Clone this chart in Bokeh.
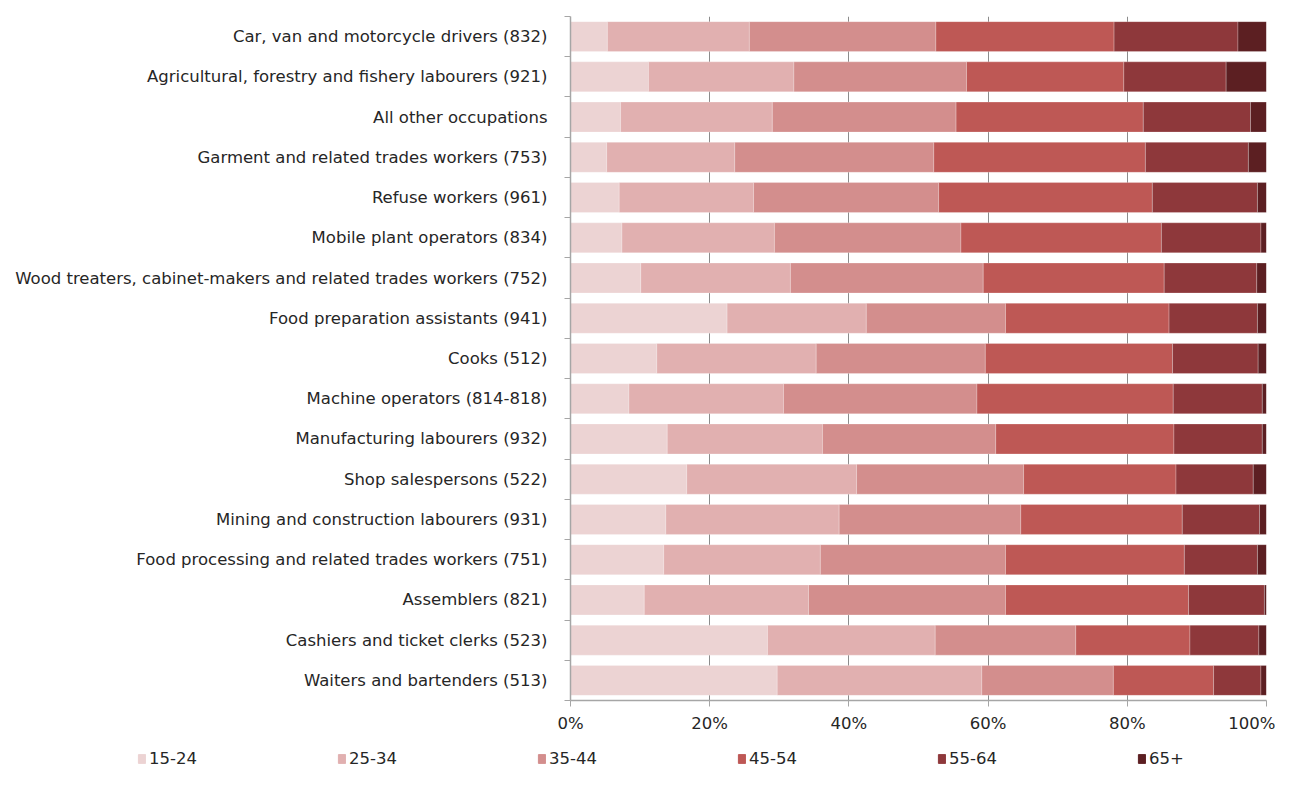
from bokeh.plotting import figure
from bokeh.models import ColumnDataSource, FixedTicker, Legend, LegendItem
from bokeh.embed import file_html
from bokeh.resources import INLINE

# categories listed from top to bottom
categories = [
    "Car, van and motorcycle drivers (832)",
    "Agricultural, forestry and fishery labourers (921)",
    "All other occupations",
    "Garment and related trades workers (753)",
    "Refuse workers (961)",
    "Mobile plant operators (834)",
    "Wood treaters, cabinet-makers and related trades workers (752)",
    "Food preparation assistants (941)",
    "Cooks (512)",
    "Machine operators (814-818)",
    "Manufacturing labourers (932)",
    "Shop salespersons (522)",
    "Mining and construction labourers (931)",
    "Food processing and related trades workers (751)",
    "Assemblers (821)",
    "Cashiers and ticket clerks (523)",
    "Waiters and bartenders (513)",
]

age_groups = ["15-24", "25-34", "35-44", "45-54", "55-64", "65+"]

# shares (%) per age group, same order as categories
s15_24 = [5.3, 11.2, 7.2, 5.2, 7.0, 7.4, 10.1, 22.5, 12.4, 8.4, 13.9, 16.7, 13.7, 13.4, 10.6, 28.3, 29.7]
s25_34 = [20.4, 20.9, 21.8, 18.4, 19.3, 21.9, 21.5, 20.0, 22.9, 22.2, 22.3, 24.4, 24.9, 22.5, 23.6, 24.1, 29.4]
s35_44 = [26.8, 24.8, 26.4, 28.6, 26.6, 26.8, 27.7, 20.0, 24.3, 27.8, 24.9, 24.0, 26.1, 26.6, 28.3, 20.2, 18.9]
s45_54 = [25.6, 22.6, 26.9, 30.4, 30.7, 28.8, 26.0, 23.5, 26.9, 28.2, 25.6, 21.9, 23.2, 25.7, 26.3, 16.4, 14.4]
s55_64 = [17.8, 14.7, 15.4, 14.8, 15.1, 14.3, 13.3, 12.7, 12.3, 12.8, 12.7, 11.1, 11.1, 10.5, 10.9, 9.9, 6.8]
s65p   = [4.1, 5.8, 2.3, 2.6, 1.3, 0.8, 1.4, 1.3, 1.2, 0.6, 0.6, 1.9, 1.0, 1.3, 0.3, 1.1, 0.8]

x_ticks = [0, 20, 40, 60, 80, 100]
x_tick_labels = ["0%", "20%", "40%", "60%", "80%", "100%"]

colors = ["#ECD3D3", "#E1B0B0", "#D38E8D", "#BE5855", "#8E383B", "#5C1F22"]

n = len(categories)
ypos = [n - i - 0.5 for i in range(n)]
series = [s15_24, s25_34, s35_44, s45_54, s55_64, s65p]

FONT = "DejaVu Sans"
FS = "16.5px"
TXT = "#262626"
AX = "#A6A6A6"

p = figure(width=1275, height=747, output_backend="svg", toolbar_location=None,
           x_range=(0, 100), y_range=(0, n),
           min_border_left=570, min_border_right=9, min_border_top=16, min_border_bottom=47)
p.outline_line_color = None
p.background_fill_color = "white"

left = [0.0] * n
for vals, col, name in zip(series, colors, age_groups):
    right = [l + v for l, v in zip(left, vals)]
    src = ColumnDataSource(dict(y=ypos, left=left, right=right))
    p.hbar(y="y", left="left", right="right", height=0.745, source=src,
           fill_color=col, line_color="white", line_width=0.4, line_alpha=0.6)
    left = right

# x axis
p.xaxis.ticker = FixedTicker(ticks=x_ticks)
p.xaxis.major_label_overrides = {t: s for t, s in zip(x_ticks, x_tick_labels)}
p.xaxis.axis_line_color = AX
p.xaxis.axis_line_width = 1.5
p.xaxis.major_tick_line_color = AX
p.xaxis.major_tick_out = 6
p.xaxis.major_tick_in = 0
p.xaxis.minor_tick_line_color = None
p.xaxis.major_label_text_font = FONT
p.xaxis.major_label_text_font_size = FS
p.xaxis.major_label_text_color = TXT
p.xaxis.major_label_standoff = 7

# y axis: labels at bar centers, small ticks at category boundaries
p.yaxis.ticker = FixedTicker(ticks=ypos, minor_ticks=list(range(0, n + 1)))
p.yaxis.major_label_overrides = {y: c for y, c in zip(ypos, categories)}
p.yaxis.major_tick_out = 0
p.yaxis.major_tick_in = 0
p.yaxis.minor_tick_out = 6
p.yaxis.minor_tick_in = 0
p.yaxis.minor_tick_line_color = AX
p.yaxis.axis_line_color = AX
p.yaxis.axis_line_width = 1.5
p.yaxis.major_label_text_font = FONT
p.yaxis.major_label_text_font_size = FS
p.yaxis.major_label_text_color = TXT
p.yaxis.major_label_standoff = 17

p.xgrid.ticker = FixedTicker(ticks=x_ticks[1:])
p.xgrid.grid_line_color = "#8C8C8C"
p.xgrid.grid_line_width = 1
p.ygrid.grid_line_color = None

# legend in its own strip below the chart (separate root, no frame alignment)
lg = figure(width=1275, height=24, output_backend="svg", toolbar_location=None,
            x_range=(0, 1), y_range=(0, 1),
            min_border_left=0, min_border_right=0, min_border_top=0, min_border_bottom=0)
lg.outline_line_color = None
lg.axis.visible = False
lg.grid.visible = False
items = []
for col, name in zip(colors, age_groups):
    # proxy glyph placed outside the visible range; only used for the legend swatch
    r = lg.quad(left=[-6], right=[-5], bottom=[-6], top=[-5], fill_color=col, line_color=col)
    items.append(LegendItem(label=name, renderers=[r]))

legend = Legend(items=items, orientation="horizontal", location=(137, 3),
                glyph_width=9, glyph_height=11, label_standoff=3, label_width=180, spacing=8,
                label_text_font=FONT, label_text_font_size=FS, label_text_color=TXT,
                border_line_color=None, background_fill_alpha=0, padding=0, margin=0)
lg.add_layout(legend, "center")

open("out.html", "w").write(file_html([p, lg], INLINE))
